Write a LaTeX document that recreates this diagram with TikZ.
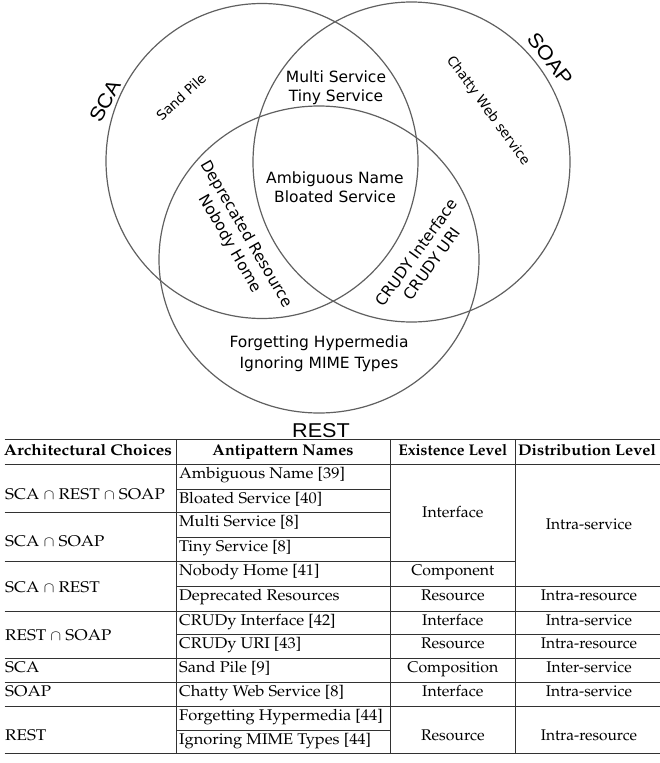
\documentclass[tikz,border=0pt]{standalone}
\usepackage[T1]{fontenc}
\usepackage{fontspec}
\usetikzlibrary{shapes.geometric}
\newfontfamily\vennfont{DejaVu Sans}
\newfontfamily\setlabelfont{Liberation Sans}
\newcommand\tabfont{\fontencoding{T1}\fontfamily{ppl}\fontsize{15.5}{18}\selectfont}
% horizontal stretch of a cell text
\newcommand\wide[2][1.06]{\scalebox{#1}[1]{#2}}
\definecolor{vennline}{RGB}{96,96,96}
\definecolor{tabline}{RGB}{50,50,50}

\begin{document}
\begin{tikzpicture}[x=1pt, y=-1pt,
  vennset/.style={ellipse, draw=vennline, line width=1.2pt, inner sep=0pt},
  setname/.style={font=\setlabelfont\fontsize{20}{24}\selectfont, inner sep=0pt},
  region/.style={font=\vennfont\fontsize{15.5}{19}\selectfont, align=center, inner sep=0pt},
  smallregion/.style={font=\vennfont\fontsize{13.5}{16}\selectfont, inner sep=0pt},
  cell/.style={font=\tabfont, anchor=base, inner sep=0pt},
  lcell/.style={cell, anchor=base west},
  head/.style={cell, font=\tabfont\bfseries},
  rule/.style={draw=tabline, line width=0.9pt},
  thickrule/.style={draw=tabline, line width=1.5pt}]
\useasboundingbox (0,0) rectangle (660,763);

% --- the three sets ---
\node[vennset, minimum width=312pt, minimum height=315pt] (sca)  at (262,161)   {};
\node[vennset, minimum width=317pt, minimum height=320pt] (soap) at (411.5,162) {};
\node[vennset, minimum width=320pt, minimum height=307pt] (rest) at (319,259.5) {};

\node[setname, rotate=62]  (scaname)  at (105,101) {\wide[1.08]{SCA}};
\node[setname, rotate=-52] (soapname) at (550,59)  {\wide[1.08]{SOAP}};
\node[setname, anchor=base] (restname) at (321,437) {\wide[1.08]{REST}};

% --- antipatterns inside the regions ---
\node[smallregion, rotate=43]  (sandpile) at (181,97)  {Sand Pile};
\node[smallregion, rotate=-54] (chatty)   at (488,111) {Chatty Web service};
\node[region] (scasoap)   at (336,87.5) {Multi Service\\Tiny Service};
\node[region] (allthree)  at (335,187.5) {Ambiguous Name\\Bloated Service};
\node[region, rotate=-60] (scarest)  at (238,239) {Deprecated Resource\\Nobody Home};
\node[region, rotate=54]  (restsoap) at (424,258) {CRUDY Interface\\CRUDY URI};
\node[region] (restonly)  at (319,354) {Forgetting Hypermedia\\[2pt]Ignoring MIME Types};

% --- table rules ---
\draw[thickrule] (4.5,439.3) -- (659.5,439.3);
\draw[rule] (4.5,464.3) -- (659.5,464.3);
\draw[rule] (176.7,489) -- (390,489);
\draw[rule] (4.5,512.7) -- (390,512.7);
\draw[rule] (176.7,537.7) -- (390,537.7);
\draw[rule] (4.5,561) -- (515.7,561);
\draw[rule] (176.7,586.7) -- (659.5,586.7);
\draw[rule] (4.5,611) -- (659.5,611);
\draw[rule] (176.7,634.3) -- (659.5,634.3);
\draw[rule] (4.5,658) -- (659.5,658);
\draw[rule] (4.5,682.7) -- (659.5,682.7);
\draw[rule] (4.5,706) -- (659.5,706);
\draw[rule] (176.7,730) -- (390,730);
\draw[thickrule] (4.5,753.3) -- (659.5,753.3);
\draw[rule] (176.7,439.3) -- (176.7,753.3);
\draw[rule] (390,439.3) -- (390,753.3);
\draw[rule] (515.7,439.3) -- (515.7,753.3);

% --- header ---
\node[head] (h1) at (88,455)    {\wide[1.1]{Architectural Choices}};
\node[head] (h2) at (283,455)   {\wide[1.04]{Antipattern Names}};
\node[head] (h3) at (452.8,455) {\wide[1.0]{Existence Level}};
\node[head] (h4) at (587,455)   {\wide[1.05]{Distribution Level}};

% --- architectural choices ---
\node[lcell] (c1) at (5,499.5) {\wide[1.1]{SCA $\cap$ REST $\cap$ SOAP}};
\node[lcell] (c2) at (5,546.8) {\wide[1.1]{SCA $\cap$ SOAP}};
\node[lcell] (c3) at (5,592)   {\wide[1.1]{SCA $\cap$ REST}};
\node[lcell] (c4) at (5,640.7) {\wide[1.1]{REST $\cap$ SOAP}};
\node[lcell] (c5) at (5,672.2) {\wide[1.1]{SCA}};
\node[lcell] (c6) at (5,696.9) {\wide[1.1]{SOAP}};
\node[lcell] (c7) at (5,740)   {\wide[1.1]{REST}};

% --- antipattern names ---
\node[lcell] (a1)  at (179,478.5) {\wide{Ambiguous Name [39]}};
\node[lcell] (a2)  at (179,503.2) {\wide{Bloated Service [40]}};
\node[lcell] (a3)  at (179,526.9) {\wide{Multi Service [8]}};
\node[lcell] (a4)  at (179,551.9) {\wide{Tiny Service [8]}};
\node[lcell] (a5)  at (179,575.2) {\wide{Nobody Home [41]}};
\node[lcell] (a6)  at (179,600.9) {\wide{Deprecated Resources}};
\node[lcell] (a7)  at (179,625.2) {\wide{CRUDy Interface [42]}};
\node[lcell] (a8)  at (179,648.5) {\wide{CRUDy URI [43]}};
\node[lcell] (a9)  at (179,672.2) {\wide{Sand Pile [9]}};
\node[lcell] (a10) at (179,696.9) {\wide{Chatty Web Service [8]}};
\node[lcell] (a11) at (179,720.2) {\wide{Forgetting Hypermedia [44]}};
\node[lcell] (a12) at (179,744.2) {\wide{Ignoring MIME Types [44]}};

% --- existence level ---
\node[cell] (e1) at (452.8,517.3) {\wide[1.02]{Interface}};
\node[cell] (e2) at (452.8,575.2) {\wide[1.02]{Component}};
\node[cell] (e3) at (452.8,600.9) {\wide[1.02]{Resource}};
\node[cell] (e4) at (452.8,625.2) {\wide[1.02]{Interface}};
\node[cell] (e5) at (452.8,648.5) {\wide[1.02]{Resource}};
\node[cell] (e6) at (452.8,672.2) {\wide[1.02]{Composition}};
\node[cell] (e7) at (452.8,696.9) {\wide[1.02]{Interface}};
\node[cell] (e8) at (452.8,740)   {\wide[1.02]{Resource}};

% --- distribution level ---
\node[cell] (d1) at (589,529.3) {\wide[1.0]{Intra-service}};
\node[cell] (d2) at (589,600.9) {\wide[1.0]{Intra-resource}};
\node[cell] (d3) at (589,625.2) {\wide[1.0]{Intra-service}};
\node[cell] (d4) at (589,648.5) {\wide[1.0]{Intra-resource}};
\node[cell] (d5) at (589,672.2) {\wide[1.0]{Inter-service}};
\node[cell] (d6) at (589,696.9) {\wide[1.0]{Intra-service}};
\node[cell] (d7) at (589,740)   {\wide[1.0]{Intra-resource}};
\end{tikzpicture}
\end{document}
